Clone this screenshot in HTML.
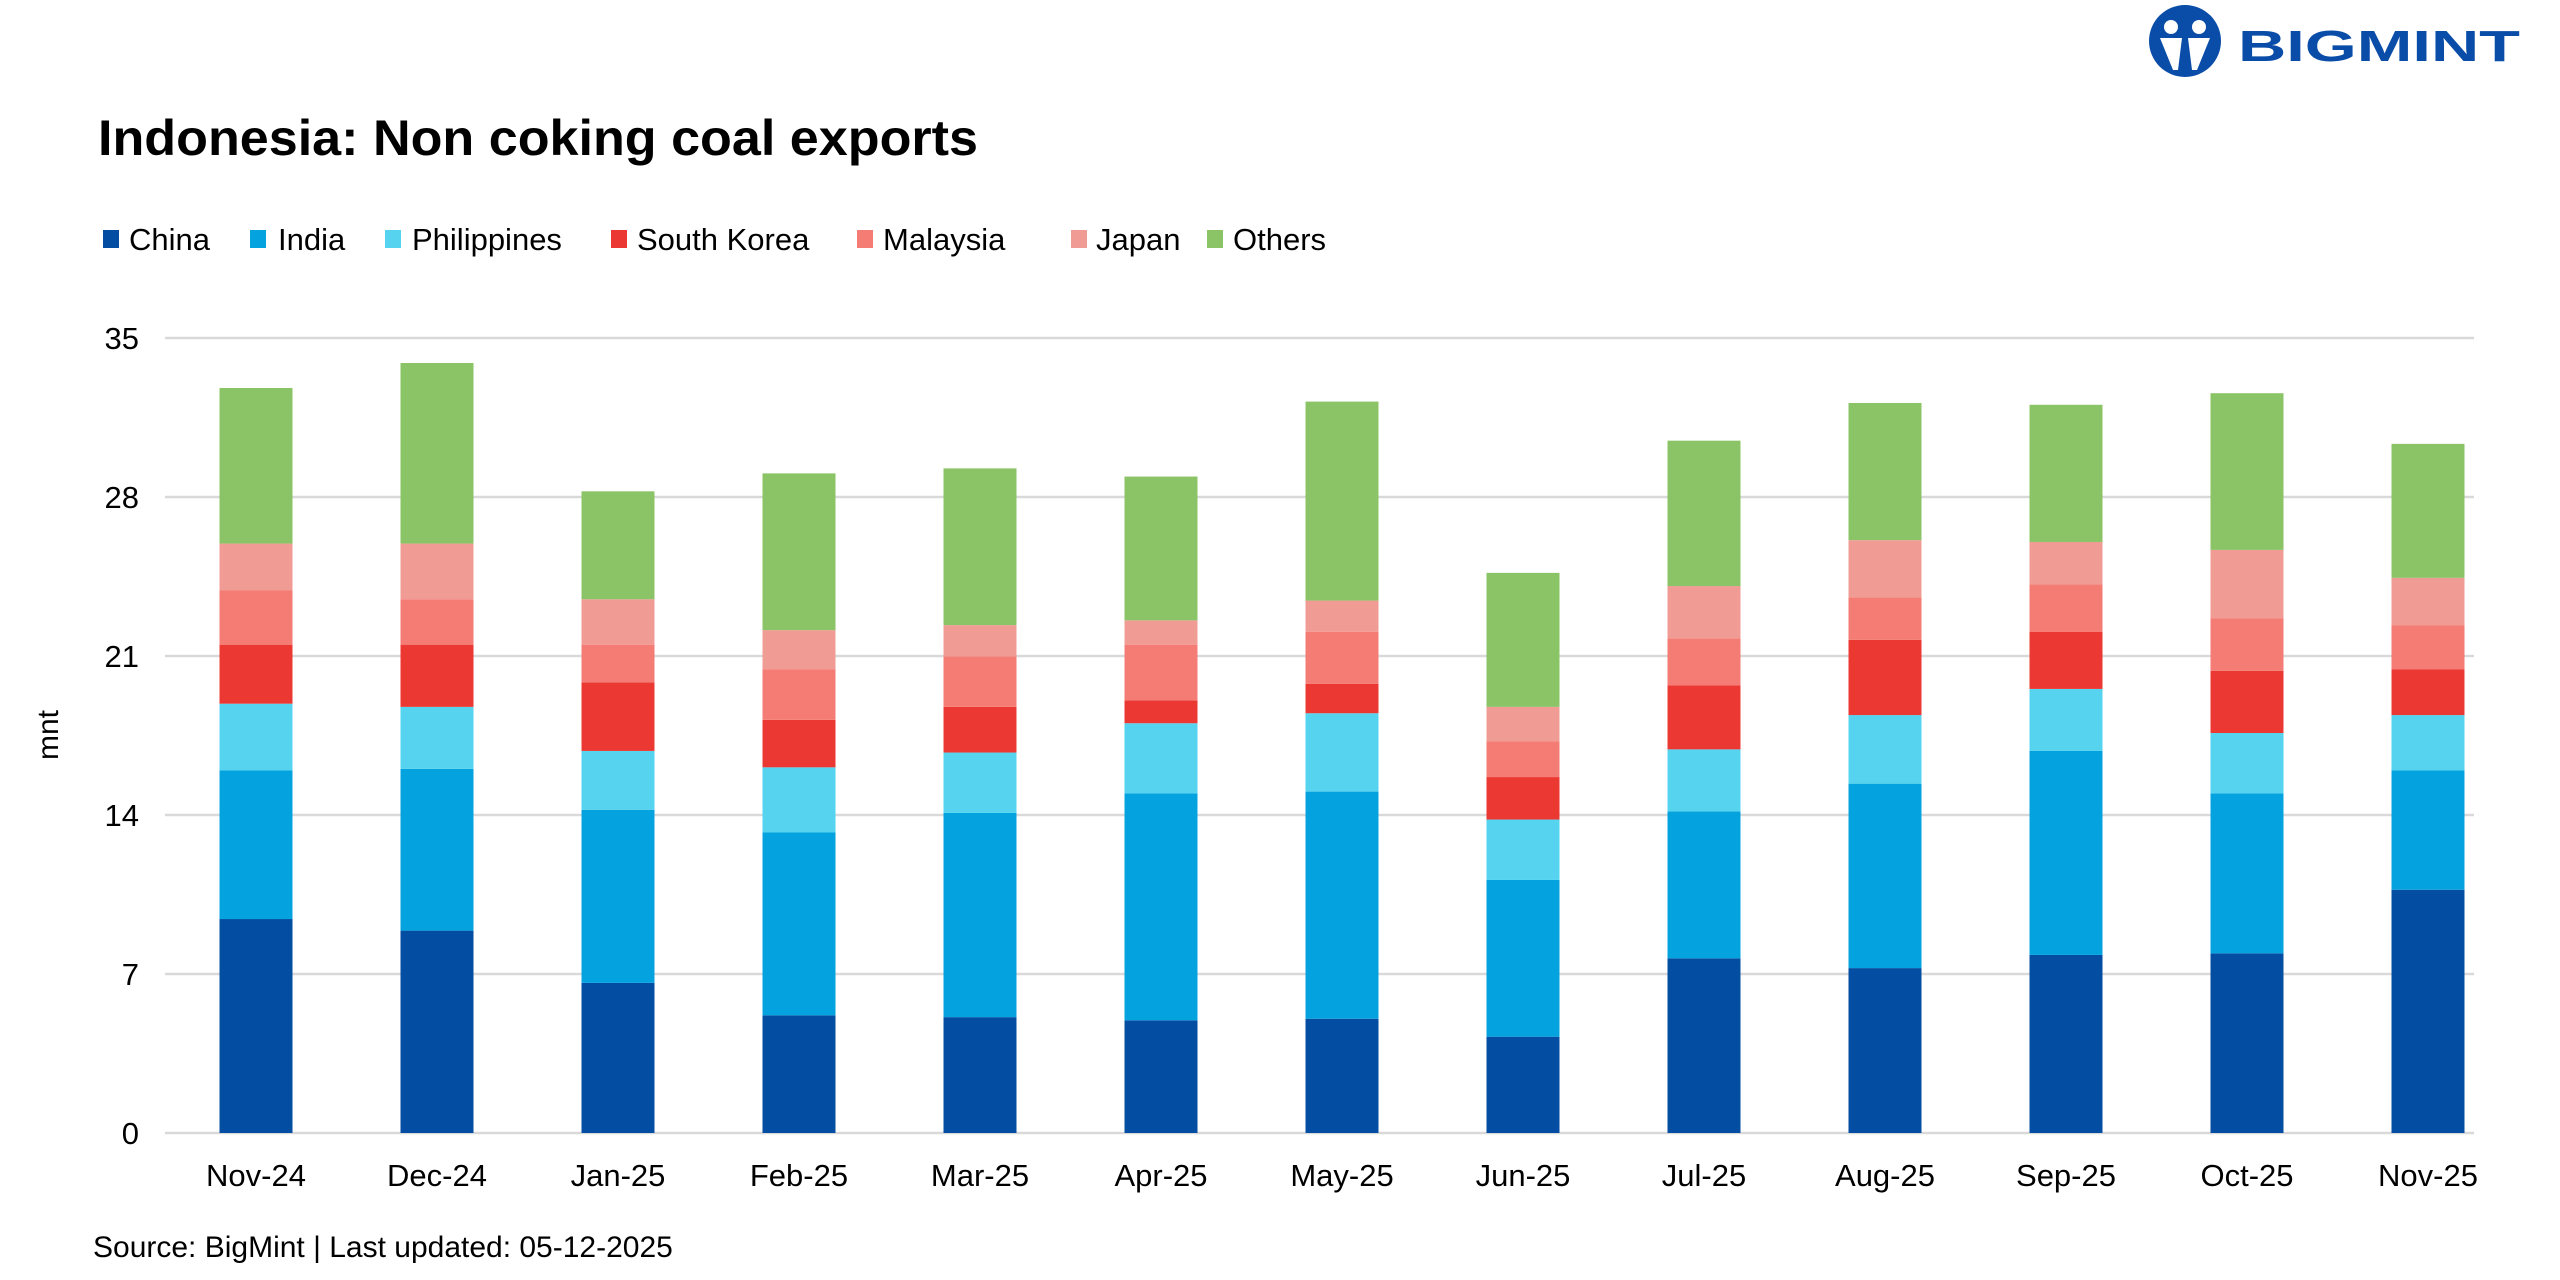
<!DOCTYPE html>
<html><head><meta charset="utf-8"><style>
html,body{margin:0;padding:0;background:#fff;}
svg{display:block;font-family:"Liberation Sans",sans-serif;}
</style></head><body>
<svg id="chart" width="2560" height="1280" viewBox="0 0 2560 1280" xmlns="http://www.w3.org/2000/svg">
<g>
<circle cx="2185" cy="41" r="36" fill="#0a4da8"/>
<circle cx="2171" cy="27" r="7" fill="#fff"/>
<circle cx="2199" cy="27" r="7" fill="#fff"/>
<path d="M2160 38 h22 l-4 32 h-5 z M2188 38 h22 l-13 32 h-5 z" fill="#fff"/>
<text x="2238" y="61" font-size="44" font-weight="bold" fill="#0a4da8" textLength="282" lengthAdjust="spacingAndGlyphs">BIGMINT</text>
</g>
<text x="98" y="155" font-size="50" font-weight="bold" fill="#000" textLength="880" lengthAdjust="spacingAndGlyphs">Indonesia: Non coking coal exports</text>
<g id="legend"></g>
<g id="grid"></g>
<g id="yticks"></g>
<text transform="translate(58,735) rotate(-90)" text-anchor="middle" font-size="30" fill="#000">mnt</text>
<g id="bars"></g>
<g id="xticks"></g>
<text x="93" y="1257" font-size="30" fill="#000">Source: BigMint | Last updated: 05-12-2025</text>
</svg>
<script>
const categories = ["Nov-24","Dec-24","Jan-25","Feb-25","Mar-25","Apr-25","May-25","Jun-25","Jul-25","Aug-25","Sep-25","Oct-25","Nov-25"];
const seriesNames = ["China","India","Philippines","South Korea","Malaysia","Japan","Others"];
const seriesColors = ["#034ea2","#04a3df","#55d3ef","#ec3833","#f47c74","#f09c95","#8bc467"];
const china = [9.42,8.91,6.61,5.18,5.10,4.96,5.03,4.24,7.69,7.26,7.84,7.91,10.71];
const india = [6.54,7.12,7.62,8.05,8.99,9.99,10.00,6.90,6.47,8.12,8.98,7.04,5.25];
const philippines = [2.94,2.73,2.59,2.87,2.66,3.09,3.45,2.66,2.73,3.02,2.73,2.66,2.44];
const southKorea = [2.60,2.74,3.02,2.09,2.01,1.01,1.29,1.87,2.81,3.31,2.52,2.74,2.02];
const malaysia = [2.40,2.00,1.66,2.23,2.23,2.45,2.30,1.58,2.08,1.87,2.08,2.30,1.94];
const japan = [2.05,2.45,2.00,1.72,1.37,1.07,1.37,1.51,2.30,2.52,1.87,3.02,2.08];
const others = [6.85,7.95,4.75,6.90,6.90,6.33,8.76,5.90,6.40,6.04,6.04,6.90,5.90];
const yTicks = [0,7,14,21,28,35];

const NS="http://www.w3.org/2000/svg";
const series=[china,india,philippines,southKorea,malaysia,japan,others];
const yMin=0,yMax=35,yTop=338,yBot=1133,xL=165,xR=2474;
function yScale(v){return yBot-(v-yMin)/(yMax-yMin)*(yBot-yTop);}
function xScale(i){return 256+i*181;}
const barW=73;
function mk(tag,attrs,parent){const e=document.createElementNS(NS,tag);for(const k in attrs)e.setAttribute(k,attrs[k]);parent.appendChild(e);return e;}

const grid=document.getElementById('grid'),yt=document.getElementById('yticks');
yTicks.forEach(t=>{
  const l=mk('line',{x1:xL,x2:xR,y1:yScale(t),y2:yScale(t),stroke:'#d9d9d9','stroke-width':2.5},grid);
  
  
  const tx=mk('text',{x:139,y:yScale(t)+11,'text-anchor':'end','font-size':31,fill:'#000'},yt);
  tx.textContent=t;
  
  
});

const bars=document.getElementById('bars'),xt=document.getElementById('xticks');
categories.forEach((c,i)=>{
  let cum=0;
  series.forEach((s,k)=>{
    const y1=yScale(cum+s[i]),y0=yScale(cum);
    const r=mk('rect',{x:xScale(i)-barW/2,y:y1,width:barW,height:y0-y1,fill:seriesColors[k]},bars);
    
    
    cum+=s[i];
  });
  const tx=mk('text',{x:xScale(i),y:1186,'text-anchor':'middle','font-size':31,fill:'#000'},xt);
  tx.textContent=c;
  
  
});

const lg=document.getElementById('legend');
const lgSq=[103,250,385,611,857,1071,1207];
const lgTx=[129,278,412,637,883,1096,1233];
seriesNames.forEach((n,k)=>{
  const g=mk('g',{},lg);
  
  
  mk('rect',{x:lgSq[k],y:230,width:16,height:18,fill:seriesColors[k]},g);
  const t=mk('text',{x:lgTx[k],y:250,'font-size':31,fill:'#000'},g);
  t.textContent=n;
});
</script>
</body></html>
